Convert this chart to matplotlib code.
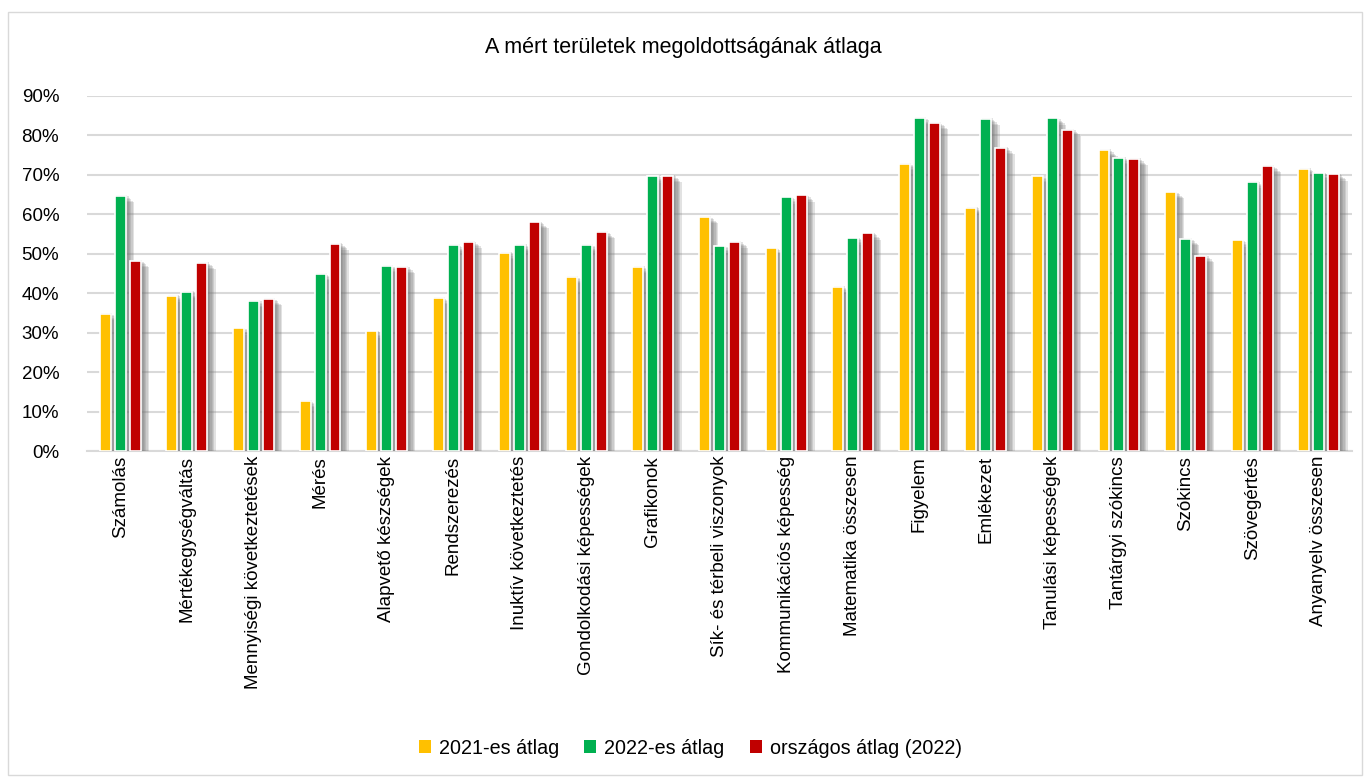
import matplotlib.pyplot as plt
import matplotlib.patheffects as pe
from matplotlib.patches import Rectangle, Patch
from matplotlib.ticker import PercentFormatter
import numpy as np

plt.rcParams['font.family'] = ['Liberation Sans', 'DejaVu Sans']

categories = ["Számolás", "Mértékegységváltás", "Mennyiségi következtetések", "Mérés",
              "Alapvető készségek", "Rendszerezés", "Inuktív következtetés",
              "Gondolkodási képességek", "Grafikonok", "Sík- és térbeli viszonyok",
              "Kommunikációs képesség", "Matematika összesen", "Figyelem", "Emlékezet",
              "Tanulási képességek", "Tantárgyi szókincs", "Szókincs", "Szövegértés",
              "Anyanyelv összesen"]

avg_2021 = [34.7, 39.4, 31.1, 12.7, 30.3, 38.8, 50.2, 44.1, 46.6, 59.3,
            51.4, 41.6, 72.8, 61.7, 69.8, 76.3, 65.6, 53.4, 71.5]
avg_2022 = [64.7, 40.3, 38.1, 44.9, 46.9, 52.2, 52.2, 52.2, 69.6, 51.9,
            64.3, 53.9, 84.4, 84.2, 84.3, 74.3, 53.7, 68.3, 70.4]
national_2022 = [48.2, 47.7, 38.5, 52.6, 46.7, 53.1, 58.0, 55.5, 69.8, 53.1,
                 64.8, 55.2, 83.2, 76.9, 81.5, 74.0, 49.5, 72.3, 70.1]

series = [("2021-es átlag", avg_2021, "#FFC000"),
          ("2022-es átlag", avg_2022, "#00B050"),
          ("országos átlag (2022)", national_2022, "#C00000")]

fig = plt.figure(figsize=(13.67, 7.8), dpi=100)
ax = fig.add_axes([87 / 1367, 1 - 451 / 780, (1352 - 87) / 1367, (451 - 96) / 780])

# keret a diagram körül
fig.patches.append(Rectangle((8 / 1367, 5 / 780), 1354 / 1367, 763 / 780,
                             transform=fig.transFigure, fill=False,
                             edgecolor="#D9D9D9", linewidth=1))

x = np.arange(len(categories))
# puha árnyék: több, enyhén eltolt réteg
shadow = [pe.SimplePatchShadow(offset=(o, -o + 1.5), shadow_rgbFace="#707070", alpha=0.2)
          for o in (1, 2, 3, 4, 5, 6)] + [pe.Normal()]
for i, (name, vals, col) in enumerate(series):
    ax.bar(x + (i - 1) * 0.225, vals, width=0.165, color=col, edgecolor="white",
           linewidth=1.2, path_effects=shadow, zorder=3)

ax.set_xlim(-0.5, len(categories) - 0.5)
ax.set_ylim(0, 90)
ax.set_yticks(range(0, 91, 10))
ax.yaxis.set_major_formatter(PercentFormatter(decimals=0))
ax.grid(axis="y", color="#D9D9D9", linewidth=1.5, zorder=0)
ax.set_axisbelow(True)
for s in ["top", "right", "left"]:
    ax.spines[s].set_visible(False)
ax.spines["bottom"].set_color("#D9D9D9")
ax.spines["bottom"].set_linewidth(1.5)
ax.tick_params(axis="both", length=0, labelsize=13.5, colors="black")
ax.tick_params(axis="y", pad=20)
ax.set_xticks(x)
ax.set_xticklabels(categories, rotation=90, fontsize=13.5)

fig.text(0.5, 1 - 47 / 780, "A mért területek megoldottságának átlaga",
         ha="center", va="center", fontsize=15.5)

handles = [Patch(facecolor=col, label=name) for name, _, col in series]
fig.legend(handles=handles, loc="center", bbox_to_anchor=(0.505, 1 - 748 / 780), ncol=3,
           frameon=False, fontsize=14.2, handlelength=0.6, handleheight=0.6,
           handletextpad=0.4, columnspacing=1.3)

fig.savefig("out.png", dpi=100)
